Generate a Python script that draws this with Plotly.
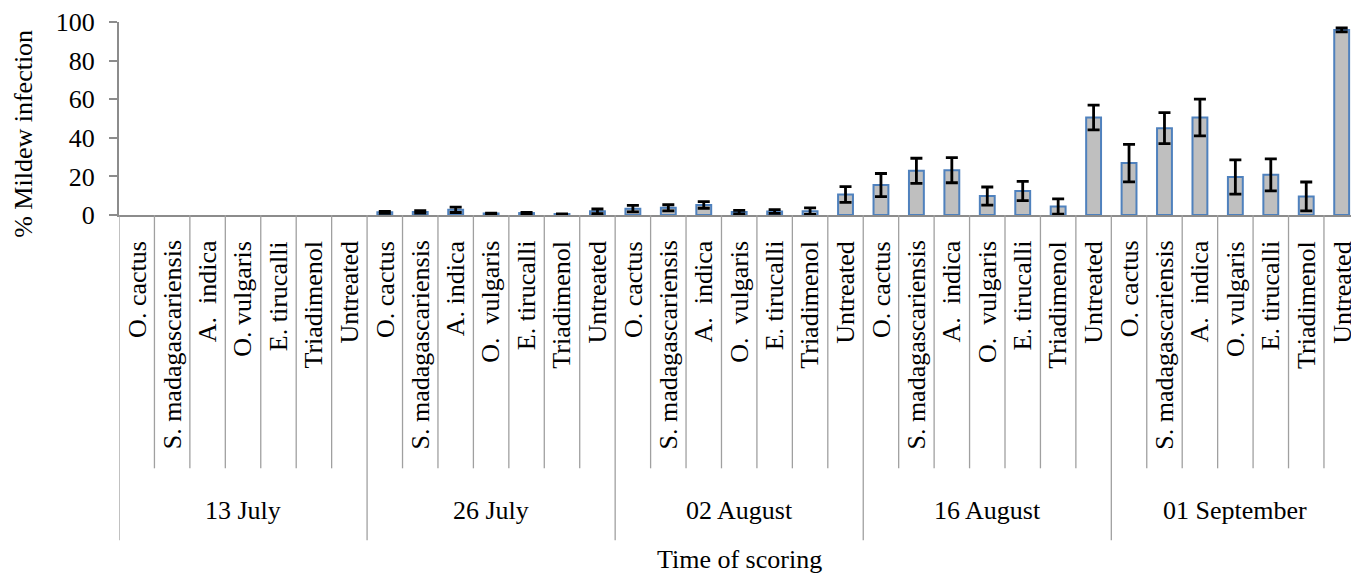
import plotly.graph_objects as go

# Scoring dates and treatments (7 treatments per date)
groups = ["13 July", "26 July", "02 August", "16 August", "01 September"]
treatment_labels = [
    ["O. cactus", "S. madagascariensis", "A.\u00a0 indica", "O. vulgaris", "E. tirucalli", "Triadimenol", "Untreated"],
    ["O. cactus", "S. madagascariensis", "A. indica", "O.\u00a0 vulgaris", "E. tirucalli", "Triadimenol", "Untreated"],
    ["O. cactus", "S. madagascariensis", "A.\u00a0 indica", "O.\u00a0 vulgaris", "E. tirucalli", "Triadimenol", "Untreated"],
    ["O. cactus", "S. madagascariensis", "A.\u00a0 indica", "O.\u00a0 vulgaris", "E. tirucalli", "Triadimenol", "Untreated"],
    ["O. cactus", "S. madagascariensis", "A.\u00a0 indica", "O. vulgaris", "E. tirucalli", "Triadimenol", "Untreated"],
]

# % mildew infection (mean) and error per date
infection_13_jul = [0, 0, 0, 0, 0, 0, 0]
infection_26_jul = [1.4, 1.6, 2.7, 0.8, 1.0, 0.5, 1.9]
infection_02_aug = [3.3, 3.7, 5.2, 1.5, 1.8, 2.0, 10.6]
infection_16_aug = [15.5, 22.9, 23.2, 9.8, 12.4, 4.4, 50.5]
infection_01_sep = [26.9, 45.0, 50.5, 19.7, 20.8, 9.6, 95.9]

error_13_jul = None  # no infection recorded, no error bars
error_26_jul = [0.5, 0.6, 1.4, 0.2, 0.3, 0.1, 1.2]
error_02_aug = [1.7, 1.6, 1.7, 0.9, 1.0, 1.7, 4.1]
error_16_aug = [6.0, 6.5, 6.5, 4.7, 5.0, 4.0, 6.4]
error_01_sep = [9.7, 8.0, 9.5, 8.9, 8.3, 7.5, 1.0]

y_ticks = [0, 20, 40, 60, 80, 100]

series = [
    (infection_13_jul, error_13_jul),
    (infection_26_jul, error_26_jul),
    (infection_02_aug, error_02_aug),
    (infection_16_aug, error_16_aug),
    (infection_01_sep, error_01_sep),
]
per_group = len(treatment_labels[0])
n_total = per_group * len(groups)

FONT = "Liberation Serif"
FS = 26
AXIS_GRAY = "#8c8c8c"
DIV_GRAY = "#a0a0a0"

fig = go.Figure()
for g, (vals, errs) in enumerate(series):
    xs = [g * per_group + k for k in range(per_group)]
    fig.add_trace(go.Bar(
        x=xs,
        y=vals,
        width=0.42,
        name=groups[g],
        marker=dict(color="#BFBFBF",
                    line=dict(color="#4F81BD",
                              width=[2 if v > 0 else 0 for v in vals])),
        error_y=dict(type="data", array=errs if errs else [0] * per_group,
                     visible=errs is not None,
                     color="black", thickness=2.8, width=6),
        showlegend=False,
    ))

# pixel geometry of the plot area
H = 574
top_px, bottom_px = 22, 215.3
plot_h = bottom_px - top_px


def paper_y(px):
    return (bottom_px - px) / plot_h


shapes = []
annotations = []

# category separators (short) and date separators (long)
for i in range(n_total + 1):
    is_group_edge = (i % per_group == 0)
    shapes.append(dict(
        type="line", xref="x", yref="paper",
        x0=i - 0.5, x1=i - 0.5,
        y0=0, y1=paper_y(541 if is_group_edge else 469),
        line=dict(color=DIV_GRAY, width=1.3),
    ))

# treatment labels
labels = [lab for grp in treatment_labels for lab in grp]
for i, lab in enumerate(labels):
    annotations.append(dict(
        x=i, xref="x", y=paper_y(239), yref="paper",
        text=lab, textangle=-90, showarrow=False,
        xanchor="center", yanchor="top",
        font=dict(family=FONT, size=FS, color="black"),
    ))

# date labels
for g, name in enumerate(groups):
    annotations.append(dict(
        x=g * per_group + (per_group - 1) / 2, xref="x",
        y=paper_y(511), yref="paper",
        text=name, showarrow=False,
        xanchor="center", yanchor="middle",
        font=dict(family=FONT, size=FS, color="black"),
    ))

# axis titles
annotations.append(dict(
    x=(n_total - 1) / 2, xref="x",
    y=paper_y(560), yref="paper",
    text="Time of scoring", showarrow=False,
    xanchor="center", yanchor="middle",
    font=dict(family=FONT, size=FS, color="black"),
))

left_px = 119
plot_w = 1351 - left_px

annotations.append(dict(
    x=(24 - left_px) / plot_w, xref="paper",
    y=paper_y(134), yref="paper",
    text="% Mildew infection", textangle=-90, showarrow=False,
    xanchor="center", yanchor="middle",
    font=dict(family=FONT, size=FS, color="black"),
))

cat_px = 35.44
x_right = -0.5 + plot_w / cat_px

fig.update_layout(
    width=1351, height=H,
    margin=dict(l=left_px, r=0, t=top_px, b=H - bottom_px, pad=0),
    paper_bgcolor="white", plot_bgcolor="white",
    barmode="overlay",
    font=dict(family=FONT, color="black"),
    shapes=shapes,
    annotations=annotations,
    xaxis=dict(
        range=[-0.5, x_right], showticklabels=False, ticks="",
        showgrid=False, zeroline=False,
        showline=True, linecolor=AXIS_GRAY, linewidth=2,
    ),
    yaxis=dict(
        range=[0, 100], tickvals=y_ticks,
        ticks="outside", ticklen=8, tickwidth=2, tickcolor=AXIS_GRAY,
        showgrid=False, zeroline=False,
        showline=True, linecolor=AXIS_GRAY, linewidth=2,
        tickfont=dict(family=FONT, size=FS, color="black"),
        ticklabelstandoff=9,
    ),
)

fig.write_html("out.html")
